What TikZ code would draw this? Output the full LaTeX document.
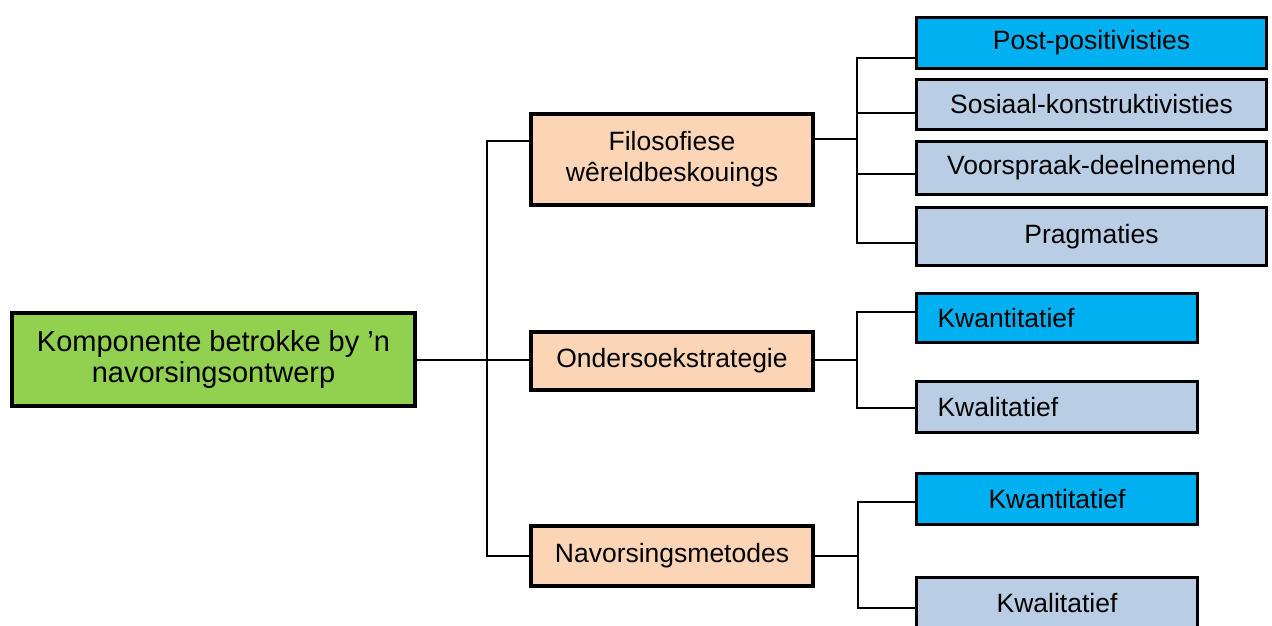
\documentclass[tikz,border=0pt]{standalone}
\usepackage{fontspec}
\setmainfont{Liberation Sans}
\definecolor{cgreen}{HTML}{92D050}
\definecolor{cpeach}{HTML}{FBD5B5}
\definecolor{ccyan}{HTML}{00B0F0}
\definecolor{clight}{HTML}{B9CDE5}
\tikzset{
  mainbox/.style={draw=black, line width=4pt, fill=cgreen, inner sep=0pt, outer sep=0pt,
    align=center, font=\fontsize{29}{31.5}\selectfont},
  midbox/.style={draw=black, line width=4pt, fill=cpeach, inner sep=0pt, outer sep=0pt,
    minimum width=282pt, align=center, font=\fontsize{26.5}{31}\selectfont},
  leafbox/.style={draw=black, line width=3pt, inner sep=0pt, outer sep=0pt,
    align=center, font=\fontsize{26.5}{31}\selectfont},
  wideleaf/.style={leafbox, minimum width=350pt},
  narrowleaf/.style={leafbox, minimum width=281pt},
  leftleaf/.style={leafbox, text width=239pt, inner xsep=21pt, align=left},
  hot/.style={fill=ccyan},
  cool/.style={fill=clight},
  conn/.style={draw=black, line width=2pt}
}
\begin{document}
\begin{tikzpicture}[x=1pt,y=-1pt]
\useasboundingbox (0,0) rectangle (1272,625);
\fill[white] (0,0) rectangle (1272,625);

% root
\node[mainbox, minimum width=403pt, minimum height=93pt] (root) at (213.5,359.5)
  {Komponente betrokke by ’n\\navorsingsontwerp};

% middle level
\node[midbox, minimum height=91pt] (filo) at (672,159.5) {Filosofiese\\wêreldbeskouings};
\node[midbox, minimum height=58pt] (ond) at (672,361) {Ondersoekstrategie};
\node[midbox, minimum height=60pt] (nav) at (672,556) {Navorsingsmetodes};

% leaves group 1
\node[wideleaf, hot,  minimum height=51pt] (post) at (1091.5,43) {Post-positivisties};
\node[wideleaf, cool, minimum height=50pt] (sos)  at (1091.5,104.5) {Sosiaal-konstruktivisties};
\node[wideleaf, cool, minimum height=53pt] (voor) at (1091.5,168) {Voorspraak-deelnemend};
\node[wideleaf, cool, minimum height=58pt] (prag) at (1091.5,236.5) {Pragmaties};

% leaves group 2
\node[leftleaf, hot,  minimum height=49pt] (kwant1) at (1057,318) {Kwantitatief};
\node[leftleaf, cool, minimum height=51pt] (kwal1)  at (1057,407) {Kwalitatief};

% leaves group 3
\node[narrowleaf, hot,  minimum height=51pt] (kwant2) at (1057,499) {Kwantitatief};
\node[narrowleaf, cool, minimum height=51pt] (kwal2)  at (1057,603) {Kwalitatief};

% trunk
\coordinate (t1) at (487,141);
\coordinate (t3) at (487,556);
\draw[conn] (filo.west |- t1) -- (t1) -- (t3) -- (nav.west |- t3);
\draw[conn] (root.east) -- (ond.west |- root.east);

% group 1 connectors
\coordinate (a1) at (857,58);
\coordinate (a2) at (857,113);
\coordinate (a3) at (857,174);
\coordinate (a4) at (857,243);
\coordinate (af) at (857,139);
\draw[conn] (post.west |- a1) -- (a1) -- (a4) -- (prag.west |- a4);
\draw[conn] (a2) -- (sos.west |- a2);
\draw[conn] (a3) -- (voor.west |- a3);
\draw[conn] (filo.east |- af) -- (af);

% group 2 connectors
\coordinate (b1) at (857,312);
\coordinate (b2) at (857,408);
\coordinate (bo) at (857,360);
\draw[conn] (kwant1.west |- b1) -- (b1) -- (b2) -- (kwal1.west |- b2);
\draw[conn] (ond.east |- bo) -- (bo);

% group 3 connectors
\coordinate (c1) at (858,502);
\coordinate (c2) at (858,608);
\coordinate (co) at (858,556);
\draw[conn] (kwant2.west |- c1) -- (c1) -- (c2) -- (kwal2.west |- c2);
\draw[conn] (nav.east |- co) -- (co);
\end{tikzpicture}
\end{document}
